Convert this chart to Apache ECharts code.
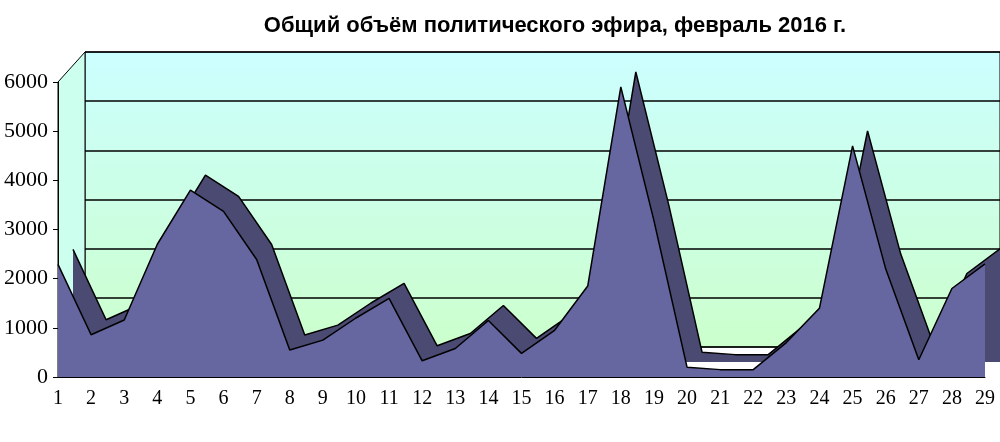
<!DOCTYPE html><html><head><meta charset="utf-8"><script src="https://cdn.jsdelivr.net/npm/echarts@6/dist/echarts.min.js"></script></head><body style="margin:0"><div id="c" style="width:1000px;height:442px"></div><script>
const days=['1','2','3','4','5','6','7','8','9','10','11','12','13','14','15','16','17','18','19','20','21','22','23','24','25','26','27','28','29'];
const values=[2290,860,1160,2700,3800,3370,2390,550,750,1200,1600,330,580,1150,480,950,1850,5900,3180,200,150,150,700,1400,4700,2200,350,1800,2300];
const ch=echarts.init(document.getElementById('c'));
ch.setOption({
 title:{text:'Общий объём политического эфира, февраль 2016 г.',left:550,top:10,textAlign:'center',textStyle:{fontFamily:'Liberation Sans',fontWeight:'bold',fontSize:22,color:'#000'}},
 graphic:[{type:'rect',z:-1,shape:{x:85,y:52,width:915,height:295},style:{fill:new echarts.graphic.LinearGradient(0,0,0,1,[{offset:0,color:'#ccffff'},{offset:1,color:'#ccffcc'}]),stroke:'#000'}},
  {type:'polygon',z:-1,shape:{points:[[58,377],[85,347],[85,52],[58,82]]},style:{fill:'#ccffee',stroke:'#000'}}],
 grid:[{left:58,right:15,top:82,bottom:65},{left:85,right:0,top:52,bottom:95},{left:73,right:0,top:67,bottom:80}],
 xAxis:[{type:'category',gridIndex:0,data:days,boundaryGap:false,axisLine:{lineStyle:{color:'#000'}},axisTick:{show:false},axisLabel:{fontFamily:'Liberation Serif',fontSize:20,color:'#000',margin:12}},
  {type:'category',gridIndex:1,data:days,boundaryGap:false,show:false},
  {type:'category',gridIndex:2,data:days,boundaryGap:false,show:false}],
 yAxis:[{type:'value',gridIndex:0,min:0,max:6000,interval:1000,axisLine:{show:true,lineStyle:{color:'#000'}},axisTick:{show:true},splitLine:{show:false},axisLabel:{fontFamily:'Liberation Serif',fontSize:22,color:'#000',margin:10,formatter:v=>String(v)}},
  {type:'value',gridIndex:1,min:0,max:6000,interval:1000,axisLine:{show:false},axisLabel:{show:false},splitLine:{lineStyle:{color:'#000',width:1.5}}},
  {type:'value',gridIndex:2,min:0,max:6000,interval:1000,show:false}],
 series:[
  {type:'line',xAxisIndex:2,yAxisIndex:2,data:values,symbol:'none',lineStyle:{color:'#000',width:1.5},areaStyle:{color:'#4a4a72',opacity:1},z:1},
  {type:'line',xAxisIndex:0,yAxisIndex:0,data:values,symbol:'none',lineStyle:{color:'#000',width:1.5},areaStyle:{color:'#6666a0',opacity:1},z:3}
 ]
});
</script></body></html>
